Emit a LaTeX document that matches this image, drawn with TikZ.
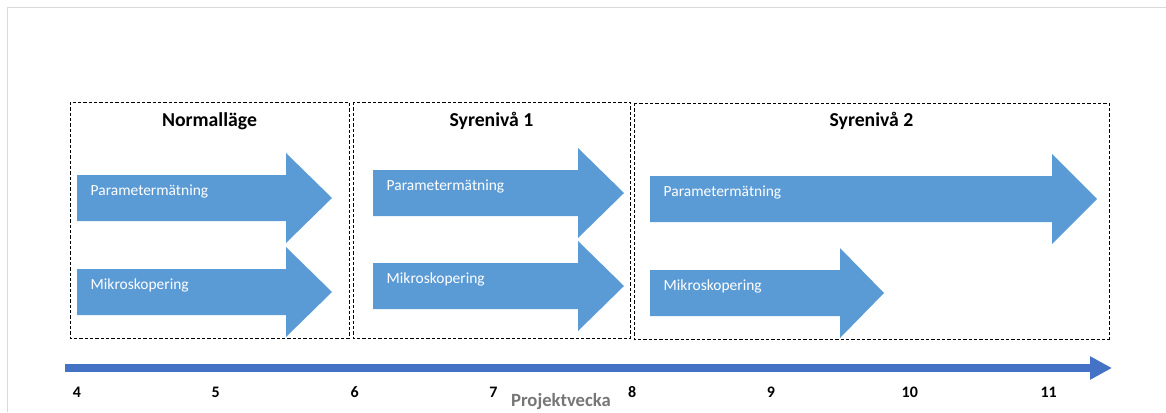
\documentclass[tikz,border=0pt]{standalone}
\usepackage{fontspec}
\setmainfont{Carlito}
\usetikzlibrary{arrows.meta}

\definecolor{arrowblue}{HTML}{5B9BD5}
\definecolor{axisblue}{HTML}{4472C4}
\definecolor{framegray}{HTML}{D9D9D9}
\definecolor{axisgray}{HTML}{767676}

% block arrow: name, x left, x head, x tip, y middle, label
\newcommand{\blockarrow}[6]{
	\fill[arrowblue] (#2,#5-23) -- (#3,#5-23) -- (#3,#5-45) -- (#4,#5) -- (#3,#5+45) -- (#3,#5+23) -- (#2,#5+23) -- cycle;
	\node[actlabel] (#1) at (#2+9,#5-3) {#6};
}

\begin{document}
\begin{tikzpicture}[x=0.75pt, y=-0.75pt,
		phasebox/.style={draw, line width=0.75pt, dash pattern=on 2.5pt off 1.5pt},
		phasetitle/.style={anchor=base, font=\fontsize{14.8}{17}\selectfont\bfseries},
		actlabel/.style={anchor=base west, text=white, font=\fontsize{11.6}{14}\selectfont},
		weeklabel/.style={anchor=base, font=\fontsize{12}{14}\selectfont\bfseries}]
	\useasboundingbox (0,0) rectangle (1166,412);
	\draw[framegray, line width=0.75pt] (7,412) -- (7,7) -- (1166,7);

	% faser
	\draw[phasebox] (70,102) rectangle (349,338);
	\draw[phasebox] (353,102) rectangle (630,338);
	\draw[phasebox] (634,103) rectangle (1109,339);
	\node[phasetitle] (T1) at (209.5,126) {Normalläge};
	\node[phasetitle] (T2) at (491.5,126) {Syrenivå 1};
	\node[phasetitle] (T3) at (871.5,126) {Syrenivå 2};

	% aktiviteter
	\blockarrow{A1}{77}{286}{332}{198}{Parametermätning}
	\blockarrow{B1}{77}{286}{332}{292}{Mikroskopering}
	\blockarrow{A2}{373}{578}{624}{193}{Parametermätning}
	\blockarrow{B2}{373}{578}{624}{286}{Mikroskopering}
	\blockarrow{A3}{650}{1052}{1097}{199}{Parametermätning}
	\blockarrow{B3}{650}{840}{884}{293}{Mikroskopering}

	% tidsaxel
	\coordinate (start) at (65,368);
	\coordinate (end) at (1112,368);
	\draw[axisblue, line width=6pt, -{Triangle[width=16.5pt, length=16.5pt]}] (start) -- (end);
	\foreach \w [count=\i from 0] in {4,...,11}
		\node[weeklabel] (W\w) at (77+138.8*\i,397) {\w};
	\node[weeklabel, font=\fontsize{14}{16}\selectfont\bfseries, text=axisgray] (axis) at (561,406) {Projektvecka};
\end{tikzpicture}
\end{document}
